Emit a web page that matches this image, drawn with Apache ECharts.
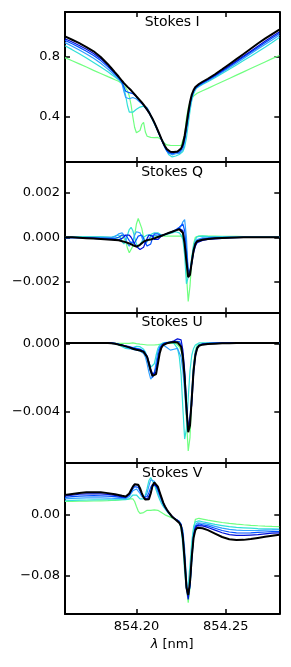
<!DOCTYPE html>
<html><head><meta charset="utf-8">
<script src="https://cdn.jsdelivr.net/npm/echarts@6/dist/echarts.min.js"></script>
<style>html,body{margin:0;padding:0;background:#fff}#c{width:291px;height:667px}</style>
</head><body><div id="c"></div>
<script>
const lam = [854.160,854.164,854.168,854.172,854.176,854.180,854.184,854.186,854.188,
854.189,854.190,
854.191,854.192,854.193,854.194,854.195,854.196,854.197,854.198,854.199,854.200,
854.201,854.202,854.203,854.204,854.205,854.206,854.207,854.208,854.209,854.210,
854.211,854.212,854.213,854.214,854.215,854.216,854.217,854.218,854.219,854.220,
854.221,854.222,854.223,854.224,854.225,854.226,854.227,854.228,854.229,854.230,
854.231,854.232,854.233,854.234,854.235,
854.237,854.240,854.244,854.248,854.252,854.256,854.260,854.264,854.268,854.272,854.276,854.280];

const panelTitles = ['Stokes I','Stokes Q','Stokes U','Stokes V'];
const seriesColors = ['#70ff80','#30e0d8','#30a0ff','#0050ff','#0010d8','#000000'];
const xTicks = [854.20, 854.25];
const yTicks = [[0.4,0.8],[-0.002,0,0.002],[-0.004,0],[-0.08,0]];
const yRanges = [[0.1,1.1],[-0.0034,0.0034],[-0.007,0.0018],[-0.13,0.068]];
const yDecimals = [1,3,3,2];

// Stokes I
const s5I=[0.796,0.775,0.754,0.733,0.711,0.690,0.669,0.659,0.648,
0.643,0.638,
0.632,0.622,0.610,0.595,0.575,0.540,0.480,0.400,0.330,0.295,
0.292,0.310,0.350,0.365,0.300,0.272,0.266,0.264,0.262,0.262,
0.262,0.264,0.262,0.250,0.232,0.220,0.214,0.212,0.211,0.210,
0.210,0.210,0.210,0.210,0.210,0.215,0.280,0.390,0.460,0.500,
0.525,0.540,0.550,0.558,0.564,
0.575,0.591,0.613,0.635,0.657,0.679,0.701,0.723,0.745,0.767,0.789,0.810];
const s4I=[0.875,0.849,0.822,0.794,0.764,0.733,0.701,0.684,0.667,
0.658,0.649,
0.640,0.622,0.590,0.540,0.475,0.432,0.425,0.432,0.443,0.452,
0.460,0.466,0.470,0.472,0.468,0.450,0.430,0.405,0.380,0.355,
0.330,0.305,0.275,0.255,0.235,0.205,0.175,0.150,0.138,0.134,
0.135,0.140,0.145,0.150,0.158,0.170,0.200,0.260,0.350,0.440,
0.510,0.555,0.580,0.595,0.605,
0.617,0.635,0.662,0.690,0.718,0.747,0.776,0.805,0.835,0.865,0.897,0.930];
const s3I=[0.896,0.872,0.847,0.820,0.791,0.758,0.719,0.698,0.677,
0.666,0.655,
0.643,0.620,0.570,0.530,0.520,0.522,0.527,0.530,0.527,0.520,
0.510,0.498,0.486,0.478,0.472,0.462,0.440,0.412,0.386,0.360,
0.334,0.306,0.278,0.250,0.222,0.195,0.172,0.158,0.150,0.148,
0.150,0.155,0.157,0.158,0.165,0.185,0.230,0.305,0.390,0.470,
0.530,0.565,0.588,0.600,0.608,
0.621,0.641,0.669,0.698,0.728,0.759,0.790,0.821,0.853,0.884,0.914,0.945];
const s2I=[0.911,0.888,0.864,0.838,0.810,0.776,0.734,0.711,0.687,
0.675,0.662,
0.648,0.630,0.600,0.572,0.562,0.562,0.562,0.556,0.546,0.534,
0.520,0.506,0.492,0.478,0.466,0.452,0.434,0.412,0.388,0.364,
0.338,0.310,0.280,0.250,0.222,0.196,0.176,0.162,0.156,0.155,
0.157,0.162,0.163,0.165,0.175,0.200,0.250,0.325,0.410,0.485,
0.540,0.572,0.592,0.604,0.612,
0.626,0.646,0.675,0.705,0.736,0.768,0.800,0.832,0.864,0.895,0.926,0.956];
const s1I=[0.922,0.900,0.877,0.852,0.824,0.789,0.744,0.718,0.692,
0.679,0.666,
0.652,0.638,0.625,0.612,0.600,0.589,0.577,0.564,0.550,0.536,
0.522,0.508,0.494,0.479,0.463,0.446,0.428,0.407,0.385,0.361,
0.335,0.307,0.279,0.251,0.225,0.202,0.184,0.171,0.165,0.162,
0.163,0.165,0.168,0.174,0.186,0.212,0.262,0.335,0.418,0.490,
0.543,0.575,0.596,0.608,0.616,
0.630,0.650,0.679,0.710,0.742,0.774,0.806,0.839,0.872,0.905,0.936,0.967];
const blackI=[0.938,0.915,0.892,0.866,0.838,0.800,0.752,0.725,0.697,
0.684,0.670,
0.655,0.640,0.626,0.613,0.601,0.590,0.578,0.565,0.551,0.537,
0.524,0.511,0.497,0.482,0.466,0.449,0.431,0.410,0.388,0.364,
0.338,0.310,0.282,0.254,0.228,0.205,0.186,0.174,0.168,0.166,
0.166,0.167,0.170,0.176,0.190,0.220,0.275,0.350,0.430,0.500,
0.550,0.580,0.600,0.612,0.620,
0.635,0.655,0.685,0.718,0.752,0.786,0.820,0.855,0.890,0.922,0.953,0.983];

// Stokes Q
const s5Q=[0.00003,0.00003,0.00003,0.00003,0.00002,0.00002,0,-0.00002,-0.00005,
-0.00005,-0.00002,
0.00005,0.0001,0.00005,-0.0002,-0.0005,-0.0007,-0.0007,-0.0004,0.0001,0.0006,
0.00085,0.0008,0.0004,0,-0.0002,-0.0002,-0.0001,0,0.00005,0.00005,
0.00005,0.00005,0.00005,0.00005,0.00005,0.00005,0.00005,0.00005,0.00005,0.00005,
0.00005,0.00005,0.00005,0.00005,0.0001,0.00005,-0.0003,-0.0017,-0.0029,-0.0022,
-0.001,-0.0003,0,0.00005,0.00006,
0.00006,0.00005,0.00005,0.00004,0.00004,0.00004,0.00003,0.00003,0.00003,0.00003,0.00003,0.00003];
const s4Q=[0.00002,0.00002,0.00002,0.00002,0.00002,0.00002,0.00001,0,0.00005,
0.0001,0.0001,
0,-0.0002,-0.0003,-0.0002,0.0001,0.00035,0.00045,0.0003,0,-0.0003,
-0.00045,-0.0004,-0.0002,0,0.00008,0.0001,0.0001,0.00012,0.00015,0.0002,
0.00022,0.0002,0.00015,0.0001,0.00008,0.0001,0.00012,0.00015,0.00018,0.0002,
0.00022,0.00025,0.00025,0.0002,0.0001,-0.0001,-0.0008,-0.0021,-0.0021,-0.0015,
-0.0009,-0.0004,-0.0001,0.00003,0.00005,
0.00005,0.00004,0.00003,0.00003,0.00002,0.00002,0.00002,0.00001,0.00001,0,0,0];
const s3Q=[0,0,0,0,0,0,0,0,0.00003,
0.00008,0.00015,
0.0002,0.0002,0.0001,-0.0001,-0.0003,-0.0004,-0.00035,-0.00015,0.0001,0.00025,
0.0003,0.0002,0,-0.0002,-0.0003,-0.00025,-0.0001,0.00005,0.00012,0.0001,
0.00005,0.00005,0.00006,0.00008,0.0001,0.00012,0.00015,0.00018,0.0002,0.00023,
0.00026,0.0003,0.00035,0.0004,0.0005,0.0007,0.0008,0,-0.0016,-0.0017,
-0.001,-0.0005,-0.0002,-0.0001,-0.00005,
-0.00003,-0.00002,0,0,0,0,0,0,0,0,0,0];
const s2Q=[-0.00003,-0.00003,-0.00003,-0.00003,-0.00003,-0.00004,-0.00005,-0.00005,-0.00005,
-0.00003,0,
0.00005,0.0001,0.00012,0.00008,-0.00002,-0.00015,-0.00025,-0.0003,-0.00025,-0.0001,
0.00005,0.00012,0.0001,-0.00005,-0.00025,-0.0004,-0.00045,-0.0003,-0.00005,0.00015,
0.00022,0.00015,0.00008,0.00008,0.0001,0.00013,0.00016,0.00019,0.00022,0.00026,
0.0003,0.00034,0.00038,0.00045,0.0005,0.0006,0.0003,-0.0006,-0.0015,-0.0016,
-0.0011,-0.0006,-0.0003,-0.00015,-0.0001,
-0.00007,-0.00005,-0.00003,-0.00002,-0.00001,0,0,0,0,0,0,0];
const s1Q=[0,0,-0.00002,-0.00003,-0.00005,-0.00007,-0.00009,-0.0001,-0.00011,
-0.00012,-0.00012,
-0.0001,-0.00005,0.00002,0.0001,0.00014,0.0001,0,-0.00015,-0.0003,-0.00042,
-0.0005,-0.00055,-0.00055,-0.00045,-0.00025,-0.00005,0.0001,0.00012,0.00005,-0.0001,
-0.00015,-0.0001,-0.00002,0.00005,0.0001,0.00013,0.00016,0.00019,0.00022,0.00025,
0.00028,0.00031,0.00035,0.00039,0.0004,0.0003,-0.0002,-0.001,-0.0018,-0.0018,
-0.0012,-0.0007,-0.0004,-0.00025,-0.00018,
-0.00014,-0.0001,-0.00007,-0.00005,-0.00003,-0.00002,-0.00001,0,0,0,0,0];
const blackQ=[0,0,-0.00002,-0.00004,-0.00006,-0.00008,-0.0001,-0.00011,-0.00012,
-0.00013,-0.00014,
-0.00016,-0.00018,-0.0002,-0.00022,-0.00025,-0.00028,-0.00032,-0.00036,-0.0004,-0.00042,
-0.0004,-0.00034,-0.00027,-0.0002,-0.00015,-0.00013,-0.00012,-0.0001,-0.00008,-0.00005,
-0.00002,0.00001,0.00004,0.00007,0.0001,0.00013,0.00016,0.00019,0.00022,0.00025,
0.00028,0.00031,0.00034,0.00036,0.00036,0.0002,-0.0003,-0.0011,-0.0018,-0.0017,
-0.0011,-0.0006,-0.0003,-0.00018,-0.00014,
-0.00011,-0.00008,-0.00005,-0.00003,-0.00002,-0.00001,0,0,0,0,0,0];

// Stokes U
const s5U=[0,0,0,0,0,0,0,0,0,
0,0,
0,0,0,0,0,0,0.00002,0.00002,0,-0.00002,
-0.00004,-0.00005,-0.00006,-0.00007,-0.00008,-0.0001,-0.0001,-0.0001,-0.0001,-0.0001,
-0.0001,-0.00008,-0.00006,-0.00004,-0.00002,0,0,0,0,0,
0,0,-0.0001,-0.0002,-0.0004,-0.0009,-0.0022,-0.0045,-0.0063,-0.0055,
-0.0032,-0.0012,-0.0004,-0.0001,0,
0,0,0,0,0,0,0,0,0,0,0,0];
const s4U=[0.00002,0.00002,0.00002,0.00002,0.00002,0.00002,0.00002,0,-0.00002,
-0.00005,-0.0001,
-0.00015,-0.0002,-0.00025,-0.0003,-0.00033,-0.00033,-0.0003,-0.00025,-0.0002,-0.00018,
-0.00018,-0.0002,-0.00025,-0.00035,-0.0005,-0.0008,-0.0011,-0.0014,-0.0015,-0.0012,
-0.0007,-0.0003,-0.0001,0,0.00003,0.00005,0.00005,0.00005,0.00005,0.00003,
0,-0.0001,-0.0003,-0.0008,-0.0018,-0.0038,-0.0056,-0.005,-0.0032,-0.0016,
-0.0007,-0.0003,-0.0001,0,0.00002,
0.00002,0.00002,0.00002,0.00002,0.00002,0.00002,0.00002,0.00002,0.00002,0.00002,0.00002,0.00002];
const s3U=[0.00004,0.00004,0.00004,0.00004,0.00004,0.00004,0.00004,0.00002,0,
-0.00003,-0.00006,
-0.0001,-0.00014,-0.00018,-0.00022,-0.00026,-0.0003,-0.00033,-0.00036,-0.00038,-0.0004,
-0.00042,-0.00045,-0.0005,-0.0006,-0.0008,-0.0012,-0.0017,-0.0021,-0.0022,-0.0018,
-0.0011,-0.0005,-0.0002,-0.0001,-0.0001,-0.00015,-0.00025,-0.00035,-0.0004,-0.0004,
-0.00035,-0.0003,-0.0003,-0.0004,-0.0008,-0.0016,-0.0028,-0.0042,-0.005,-0.0044,
-0.0028,-0.0013,-0.0005,-0.0002,-0.0001,
-0.00005,0,0.00002,0.00003,0.00003,0.00003,0.00003,0.00003,0.00003,0.00003,0.00003,0.00003];
const s2U=[0.00002,0.00002,0.00002,0.00002,0.00002,0.00002,0.00002,0,-0.00002,
-0.00004,-0.00006,
-0.00008,-0.0001,-0.00012,-0.00015,-0.00018,-0.0002,-0.00022,-0.00025,-0.00028,-0.0003,
-0.00032,-0.00034,-0.00038,-0.00045,-0.0006,-0.0009,-0.0013,-0.0017,-0.002,-0.0019,
-0.0014,-0.0008,-0.0003,-0.0001,0,0.00003,0.00005,0.00006,0.00007,0.00008,
0.0001,0.00012,0.00012,0.0001,-0.0001,-0.0007,-0.0019,-0.0037,-0.0051,-0.0047,
-0.0031,-0.0015,-0.0006,-0.00025,-0.0001,
-0.00004,-0.00001,0.00001,0.00002,0.00002,0.00002,0.00002,0.00002,0.00002,0.00002,0.00002,0.00002];
const s1U=[0.00003,0.00003,0.00003,0.00003,0.00003,0.00003,0.00003,0.00002,0,
-0.00002,-0.00005,
-0.00008,-0.0001,-0.00013,-0.00016,-0.0002,-0.00023,-0.00026,-0.0003,-0.00033,-0.00036,
-0.00038,-0.0004,-0.00042,-0.00046,-0.00055,-0.00075,-0.0011,-0.0015,-0.0018,-0.0019,
-0.0017,-0.0011,-0.0005,-0.0002,-0.00005,0,0.00003,0.00005,0.00007,0.0001,
0.00014,0.0002,0.00026,0.0003,0.0002,-0.0004,-0.0016,-0.0034,-0.005,-0.0051,
-0.0036,-0.0018,-0.0008,-0.0003,-0.00012,
-0.00005,-0.00002,0,0.00001,0.00002,0.00002,0.00002,0.00002,0.00002,0.00002,0.00002,0.00002];
const blackU=[0.00002,0.00002,0.00002,0.00002,0.00002,0.00002,0.00002,0,-0.00003,
-0.00005,-0.00008,
-0.0001,-0.00012,-0.00015,-0.00018,-0.0002,-0.00024,-0.00028,-0.00032,-0.00035,-0.00038,
-0.0004,-0.00042,-0.00045,-0.0005,-0.0006,-0.0008,-0.0012,-0.0016,-0.0019,-0.002,
-0.0018,-0.0012,-0.0006,-0.00025,-0.0001,-0.00003,0,0.00003,0.00005,0.00006,
0.00007,0.00007,0.00005,0,-0.0002,-0.0008,-0.002,-0.0038,-0.0052,-0.0048,
-0.0032,-0.0016,-0.0007,-0.0003,-0.00015,
-0.00008,-0.00004,-0.00002,0,0,0.00001,0.00001,0.00002,0.00002,0.00002,0.00002,0.00002];

// Stokes V
const s5V=[0.0175,0.0177,0.0179,0.018,0.0182,0.0184,0.0186,0.0188,0.019,
0.0192,0.0194,
0.0196,0.0198,0.02,0.0202,0.0205,0.021,0.0215,0.021,0.0175,0.011,
0.005,0.002,0.0015,0.003,0.005,0.006,0.006,0.006,0.0062,0.0065,
0.0065,0.006,0.0045,0.003,0.0015,0,-0.001,-0.002,-0.003,-0.004,
-0.005,-0.006,-0.007,-0.009,-0.013,-0.025,-0.055,-0.095,-0.115,-0.095,
-0.05,-0.018,-0.006,-0.004,-0.0045,
-0.0055,-0.007,-0.0085,-0.01,-0.0112,-0.0122,-0.013,-0.0137,-0.0143,-0.0148,-0.0151,-0.0153];
const s4V=[0.0185,0.019,0.0193,0.0195,0.0197,0.0198,0.0198,0.0198,0.0198,
0.0198,0.0198,
0.0198,0.0198,0.0198,0.0198,0.02,0.021,0.0235,0.026,0.027,0.026,
0.0235,0.021,0.02,0.021,0.026,0.035,0.045,0.049,0.047,0.04,
0.033,0.026,0.02,0.015,0.011,0.008,0.005,0.002,-0.0005,-0.003,
-0.005,-0.0065,-0.008,-0.01,-0.018,-0.04,-0.075,-0.098,-0.092,-0.065,
-0.035,-0.016,-0.009,-0.0075,-0.008,
-0.009,-0.0105,-0.0125,-0.014,-0.0155,-0.0165,-0.017,-0.0175,-0.018,-0.0183,-0.0185,-0.0188];
const s3V=[0.021,0.0215,0.022,0.0222,0.0223,0.0222,0.022,0.0218,0.0216,
0.0215,0.0215,
0.0215,0.0214,0.0213,0.0212,0.0218,0.024,0.028,0.0315,0.0335,0.034,
0.032,0.028,0.024,0.0225,0.024,0.029,0.038,0.046,0.048,0.044,
0.037,0.03,0.024,0.018,0.013,0.009,0.0055,0.0025,0,-0.0025,
-0.0045,-0.006,-0.007,-0.008,-0.01,-0.02,-0.045,-0.085,-0.104,-0.095,
-0.062,-0.03,-0.014,-0.0105,-0.0105,
-0.011,-0.0125,-0.015,-0.0175,-0.019,-0.02,-0.0205,-0.0205,-0.0203,-0.02,-0.0198,-0.0195];
const s2V=[0.023,0.0238,0.0245,0.025,0.0252,0.025,0.0245,0.0242,0.0238,
0.0235,0.0232,
0.023,0.0228,0.0226,0.0226,0.0235,0.026,0.03,0.034,0.037,0.038,
0.036,0.031,0.0265,0.0235,0.0225,0.024,0.029,0.036,0.04,0.041,
0.038,0.033,0.027,0.021,0.015,0.01,0.0065,0.003,0,-0.0025,
-0.0045,-0.006,-0.0075,-0.009,-0.012,-0.025,-0.055,-0.092,-0.106,-0.09,
-0.055,-0.026,-0.015,-0.0125,-0.012,
-0.013,-0.0145,-0.0175,-0.0205,-0.0225,-0.0235,-0.0238,-0.0235,-0.023,-0.0225,-0.022,-0.0218];
const s1V=[0.0249,0.026,0.027,0.0275,0.0277,0.0275,0.0268,0.0262,0.0255,
0.025,0.0245,
0.024,0.0235,0.0232,0.0232,0.024,0.027,0.032,0.037,0.04,0.041,
0.039,0.034,0.028,0.0235,0.021,0.0205,0.022,0.029,0.037,0.04,
0.039,0.035,0.029,0.0225,0.016,0.011,0.007,0.0035,0.0005,-0.002,
-0.004,-0.0055,-0.007,-0.009,-0.013,-0.028,-0.058,-0.097,-0.111,-0.092,
-0.055,-0.028,-0.017,-0.014,-0.0135,
-0.0145,-0.0165,-0.02,-0.0235,-0.026,-0.027,-0.027,-0.0265,-0.026,-0.025,-0.024,-0.0235];
const blackV=[0.0262,0.0275,0.0287,0.0295,0.0298,0.0295,0.0285,0.0278,0.027,
0.0265,0.026,
0.0255,0.025,0.0245,0.0242,0.025,0.028,0.0325,0.037,0.04,0.041,
0.0395,0.035,0.0285,0.023,0.02,0.0195,0.0205,0.028,0.038,0.0425,
0.0415,0.037,0.03,0.023,0.016,0.011,0.007,0.0035,0.0005,-0.0025,
-0.0045,-0.0065,-0.0085,-0.0105,-0.015,-0.03,-0.06,-0.095,-0.105,-0.088,
-0.055,-0.03,-0.02,-0.017,-0.0165,
-0.0175,-0.02,-0.0245,-0.029,-0.032,-0.033,-0.0328,-0.0318,-0.0302,-0.0288,-0.0275,-0.0262];

const panels = [
  [s5I,s4I,s3I,s2I,s1I,blackI],
  [s5Q,s4Q,s3Q,s2Q,s1Q,blackQ],
  [s5U,s4U,s3U,s2U,s1U,blackU],
  [s5V,s4V,s3V,s2V,s1V,blackV]
];
panels.forEach((p,pi)=>p.forEach((a,ai)=>{ if(a.length!==lam.length) throw new Error('len mismatch panel '+pi+' series '+ai+': '+a.length); }));

const FONT = 'DejaVu Sans';
const gridTops = [12,162,312.5,463];
const gridHeights = [150,150.5,150.5,151];
const L = 65, W = 214.3;
const fmt = d => v => { const s = Number(v).toFixed(d); return s.replace('-', '\u2212'); };
const lineSt = {color:'#000', width:2};
const tickSt = {color:'#000', width:1.5};

const grid=[], xAxis=[], yAxis=[], series=[], graphic=[];
for (let i=0;i<4;i++){
  grid.push({left:L, top:gridTops[i], width:W, height:gridHeights[i], containLabel:false});
  const isLast = i===3;
  xAxis.push({type:'value', gridIndex:i, position:'bottom', min:854.16, max:854.28,
    axisLine:{show:true, onZero:false, lineStyle:lineSt},
    axisTick:{show:true, inside:true, length:5, lineStyle:tickSt, customValues:xTicks},
    axisLabel:{show:isLast, customValues:xTicks, formatter:v=>Number(v).toFixed(2), margin:6,
      fontFamily:FONT, fontSize:13, color:'#000'},
    splitLine:{show:false},
    name: isLast ? '{i|\u03bb} [nm]' : '', nameLocation:'middle', nameGap:24,
    nameTextStyle:{fontFamily:FONT, fontSize:13, color:'#000', rich:{i:{fontFamily:FONT, fontSize:13, fontStyle:'italic', color:'#000'}}}
  });
  xAxis.push({type:'value', gridIndex:i, position:'top', min:854.16, max:854.28,
    axisLine:{show:true, onZero:false, lineStyle:lineSt},
    axisTick:{show:true, inside:true, length:5, lineStyle:tickSt, customValues:xTicks},
    axisLabel:{show:false}, splitLine:{show:false}});
  yAxis.push({type:'value', gridIndex:i, position:'left', min:yRanges[i][0], max:yRanges[i][1],
    axisLine:{show:true, onZero:false, lineStyle:lineSt},
    axisTick:{show:true, inside:true, length:5, lineStyle:tickSt, customValues:yTicks[i]},
    axisLabel:{show:true, customValues:yTicks[i], formatter:fmt(yDecimals[i]), margin:5,
      fontFamily:FONT, fontSize:13, color:'#000'},
    splitLine:{show:false}});
  yAxis.push({type:'value', gridIndex:i, position:'right', min:yRanges[i][0], max:yRanges[i][1],
    axisLine:{show:true, onZero:false, lineStyle:lineSt},
    axisTick:{show:true, inside:true, length:5, lineStyle:tickSt, customValues:yTicks[i]},
    axisLabel:{show:false}, splitLine:{show:false}});
  graphic.push({type:'text', x:L+W/2, y:gridTops[i]+3, z:100, silent:true,
    style:{text:panelTitles[i], fill:'#000', font:'14px "DejaVu Sans"',
      align:'center', verticalAlign:'top', textAlign:'center', textVerticalAlign:'top'}});
  panels[i].forEach((vals,k)=>{
    const isBlack = k===panels[i].length-1;
    series.push({type:'line', xAxisIndex:2*i, yAxisIndex:2*i,
      data: lam.map((l,j)=>[l, vals[j]]),
      showSymbol:false, symbol:'none', silent:true, clip:true,
      lineStyle:{color:seriesColors[k], width: isBlack?2:1.2},
      z: 2+k});
  });
}

const chart = echarts.init(document.getElementById('c'), null, {renderer:'canvas'});
chart.setOption({animation:false, backgroundColor:'#fff', grid, xAxis, yAxis, series, graphic});
</script></body></html>
